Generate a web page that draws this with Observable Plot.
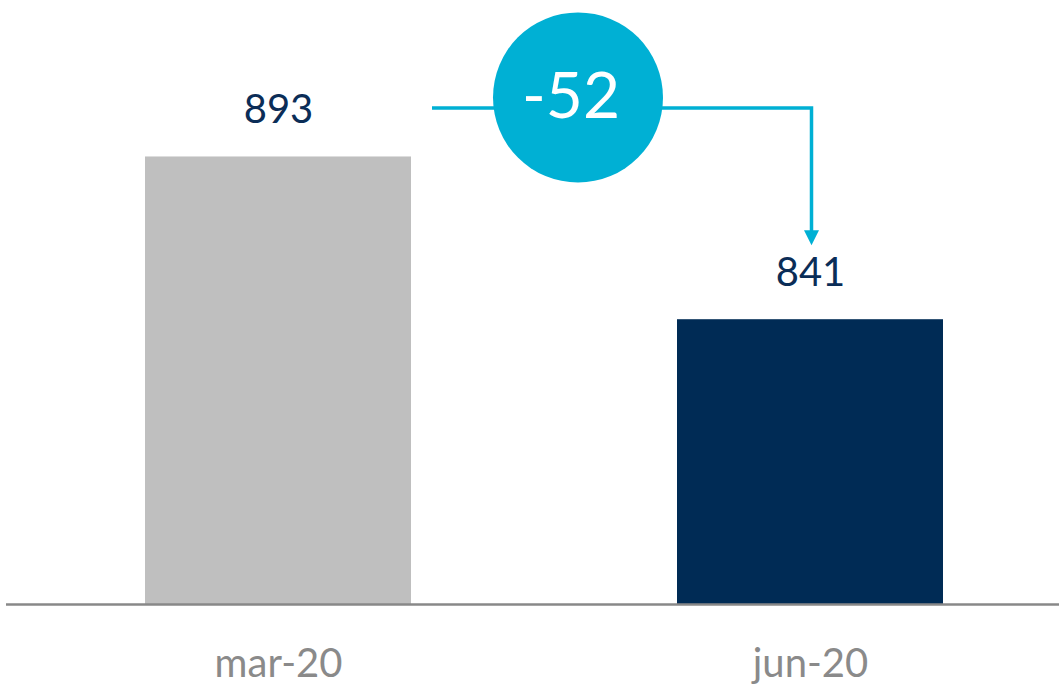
<!DOCTYPE html>
<html><head><meta charset="utf-8">
<script src="https://cdn.jsdelivr.net/npm/d3@7"></script>
<script src="https://cdn.jsdelivr.net/npm/@observablehq/plot@0.6"></script>
<style>html,body{margin:0;padding:0;background:#fff;overflow:hidden} #chart svg{display:block}</style>
</head><body><div id="chart"></div>
<script>
const categories = ["mar-20", "jun-20"];
const values = [893, 841];
const barColors = ["#bfbfbf", "#002b55"];
const data = categories.map((c, i) => ({category: c, value: values[i], color: barColors[i]}));
const delta = values[1] - values[0];
const deltaLabel = String(delta);
const accent = "#00b0d4";

function deltaAnnotation(index, scales) {
  const {x, y} = scales;
  const bw = typeof x.bandwidth === "function" ? x.bandwidth() : x.bandwidth;
  const x0 = x(categories[0]) + bw + 21;
  const x1 = x(categories[1]) + bw / 2 + 1.5;
  const yLine = y(values[0]) - 48.5;
  const yTip = y(values[1]) - 74;
  const cx = x(categories[0]) + bw + 167;
  const cy = y(values[0]) - 59;
  const g = d3.create("svg:g");
  g.append("path").attr("d", `M${x0},${yLine}H${x1}V${yTip - 12}`)
    .attr("fill", "none").attr("stroke", accent).attr("stroke-width", 3.5);
  g.append("path").attr("d", `M${x1 - 7.5},${yTip - 15}L${x1 + 7.5},${yTip - 15}L${x1},${yTip}Z`)
    .attr("fill", accent);
  g.append("circle").attr("cx", cx).attr("cy", cy).attr("r", 85).attr("fill", accent);
  g.append("text").attr("x", cx - 7).attr("y", cy + 21).attr("text-anchor", "middle")
    .attr("fill", "#fff").attr("font-size", 64).attr("font-family", "Lato").text(deltaLabel);
  return g.node();
}

const chart = Plot.plot({
  width: 1059,
  height: 687,
  marginTop: 0,
  marginBottom: 83,
  marginLeft: 6,
  marginRight: 0,
  style: {fontFamily: "Lato", background: "#fff"},
  x: {domain: categories, range: [12, 1076], paddingInner: 0.5, paddingOuter: 0.25, label: null},
  y: {domain: [750, 943], axis: null},
  marks: [
    Plot.barY(data, {x: "category", y1: 750, y2: "value", fill: "color"}),
    Plot.ruleY([750], {stroke: "#888888", strokeWidth: 2.5}),
    Plot.text(data, {x: "category", y: "value", text: d => String(d.value), dy: -47, fontSize: 40, fill: "#0b2d57"}),
    Plot.axisX({tickSize: 0, tickPadding: 44, fontSize: 40, fill: "#8a8a8a", label: null}),
    deltaAnnotation
  ]
});
document.getElementById("chart").appendChild(chart);
</script>
</body></html>
